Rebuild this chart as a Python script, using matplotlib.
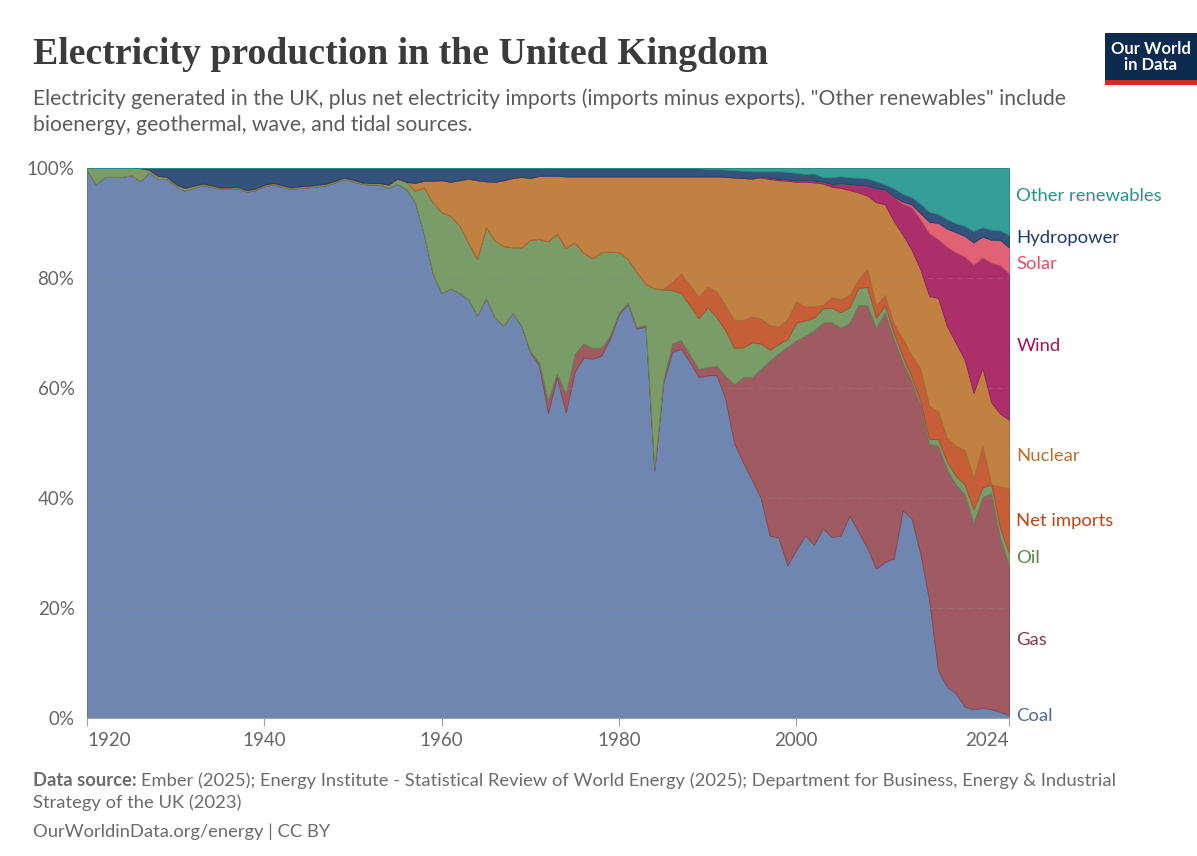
import matplotlib
matplotlib.use("Agg")
import matplotlib.pyplot as plt
import matplotlib.transforms as mtransforms
from matplotlib.patches import Rectangle
import numpy as np

# share of electricity by source, %, 1920..2024
years = np.arange(1920, 2025)

coal = [99.6, 97.0, 98.4, 98.4, 98.4, 98.7, 97.6, 99.2, 98.0, 98.0,
        96.7, 95.9, 96.4, 96.9, 96.6, 96.2, 96.2, 96.3, 95.7, 96.0,
        96.7, 97.0, 96.6, 96.2, 96.4, 96.5, 96.7, 96.9, 97.4, 98.0,
        97.6, 97.1, 97.0, 97.0, 96.4, 97.1, 96.2, 93.8, 88.0, 80.8,
        77.3, 78.1, 77.3, 76.2, 73.2, 76.4, 72.8, 71.4, 73.7, 71.3,
        66.5, 64.1, 55.5, 62.0, 55.6, 62.9, 65.6, 65.3, 65.9, 69.0,
        73.5, 75.3, 70.8, 71.2, 45.0, 61.1, 66.5, 67.2, 64.7, 62.0,
        62.3, 62.4, 58.1, 50.0, 46.5, 43.3, 40.0, 33.2, 32.8, 27.8,
        30.6, 33.2, 31.5, 34.5, 32.9, 33.2, 36.8, 33.9, 31.0, 27.2,
        28.4, 29.0, 37.8, 36.3, 29.9, 21.5, 8.7, 5.7, 4.5, 2.1,
        1.6, 1.9, 1.6, 1.2, 0.5]

gas = [0] * 50 + \
      [0.2, 0.5, 2.3, 0.7, 3.4, 3.3, 2.5, 2.0, 1.4, 0.6,
       0.3, 0.2, 0.3, 0.3, 0.5, 0.4, 1.6, 1.5, 1.4, 1.5,
       1.5, 1.7, 4.1, 10.7, 15.5, 18.7, 23.5, 31.8, 33.5, 39.7,
       38.1, 36.3, 39.0, 37.4, 39.1, 37.8, 35.0, 41.2, 44.1, 43.8,
       45.4, 40.0, 27.0, 25.0, 27.0, 28.4, 41.0, 39.5, 38.1, 39.1,
       34.4, 38.7, 39.5, 33.5, 27.3]

oil = [0.4, 3.0, 1.6, 1.6, 1.6, 1.3, 2.4, 0.5, 0.6, 0.4,
       0.4, 0.5, 0.4, 0.3, 0.3, 0.3, 0.3, 0.3, 0.3, 0.3,
       0.3, 0.3, 0.3, 0.3, 0.3, 0.3, 0.3, 0.3, 0.3, 0.3,
       0.3, 0.3, 0.3, 0.3, 0.6, 1.0, 1.3, 2.1, 8.5, 13.0,
       14.7, 13.2, 12.3, 10.3, 10.3, 12.9, 14.0, 14.4, 11.9, 14.3,
       20.3, 22.5, 28.9, 25.4, 26.5, 20.3, 16.5, 16.3, 17.4, 15.2,
       10.9, 8.0, 10.0, 7.5, 32.6, 16.5, 9.7, 8.6, 8.9, 9.2,
       10.9, 8.8, 8.3, 6.6, 5.4, 6.3, 4.6, 2.0, 1.7, 1.4,
       3.2, 2.8, 2.3, 2.6, 2.6, 2.8, 2.9, 3.1, 3.3, 1.8,
       1.2, 1.0, 1.0, 0.8, 0.8, 0.9, 1.2, 1.4, 1.6, 1.8,
       2.5, 1.8, 1.6, 1.8, 2.2]

net_imports = [0] * 60 + \
      [0, 0, 0, 0, 0, 0.1, 1.5, 3.5, 3.7, 3.8,
       3.7, 4.6, 4.5, 5.0, 5.0, 4.7, 4.5, 4.4, 3.2, 3.6,
       3.9, 2.5, 2.1, 0.6, 1.9, 2.3, 2.2, 1.5, 3.2, 2.2,
       1.9, 1.7, 3.2, 3.9, 5.8, 6.0, 5.0, 4.3, 5.5, 6.3,
       5.7, 7.7, 0.0, 8.0, 11.7]

nuclear = [0] * 30 + \
      [0, 0, 0, 0, 0, 0, 0, 1.4, 1.2, 3.9,
       5.8, 6.2, 8.2, 11.6, 14.3, 8.3, 10.7, 12.0, 12.6, 12.8,
       11.2, 11.5, 11.9, 10.5, 13.0, 12.0, 13.9, 14.9, 13.8, 13.7,
       13.8, 15.0, 17.4, 19.5, 20.4, 20.5, 19.2, 17.7, 19.8, 22.0,
       20.1, 21.0, 23.4, 26.0, 25.8, 25.1, 25.7, 26.6, 26.6, 25.2,
       21.7, 22.7, 22.5, 22.1, 20.1, 20.3, 19.1, 15.9, 13.4, 18.8,
       16.5, 18.7, 18.9, 19.2, 18.1, 20.0, 20.8, 20.3, 18.8, 16.7,
       15.7, 14.3, 15.0, 14.0, 12.5]

wind = [0] * 70 + \
      [0, 0, 0, 0, 0, 0, 0.1, 0.2, 0.2, 0.2,
       0.2, 0.3, 0.3, 0.3, 0.5, 0.8, 1.1, 1.3, 1.8, 2.5,
       2.7, 4.3, 5.6, 7.7, 9.1, 11.4, 10.7, 14.4, 16.5, 19.0,
       23.6, 20.3, 25.5, 28.5, 26.6]

solar = [0] * 90 + \
      [0, 0.1, 0.4, 0.5, 1.1, 2.1, 3.0, 3.3, 3.7, 3.8,
       4.1, 3.8, 4.2, 4.9, 4.8]

hydro = [0, 0, 0, 0, 0, 0, 0, 0.3, 1.4, 1.6,
         2.9, 3.6, 3.2, 2.8, 3.1, 3.5, 3.5, 3.4, 4.0, 3.7,
         3.0, 2.7, 3.1, 3.5, 3.3, 3.2, 3.0, 2.8, 2.3, 1.7,
         2.1, 2.6, 2.7, 2.7, 3.0, 1.9, 2.5, 2.7, 2.3, 2.3,
         2.2, 2.5, 2.2, 1.9, 2.2, 2.4, 2.5, 2.2, 1.8, 1.6,
         1.8, 1.4, 1.4, 1.4, 1.5, 1.5, 1.5, 1.5, 1.5, 1.5,
         1.5, 1.5, 1.5, 1.5, 1.5, 1.5, 1.5, 1.5, 1.5, 1.5,
         1.3, 1.3, 1.3, 1.3, 1.3, 1.3, 1.0, 1.2, 1.4, 1.4,
         1.4, 1.1, 1.3, 0.8, 1.2, 1.3, 1.2, 1.3, 1.3, 1.3,
         0.9, 1.5, 1.4, 1.3, 1.7, 1.8, 1.6, 1.7, 1.6, 1.8,
         2.1, 1.7, 1.8, 1.8, 2.2]

other_renewables = [0] * 70 + \
      [0.2, 0.2, 0.3, 0.4, 0.5, 0.6, 0.6, 0.6, 0.6, 0.7,
       0.9, 1.1, 1.0, 1.7, 1.7, 1.5, 1.7, 1.8, 1.9, 2.4,
       3.0, 3.7, 4.7, 5.3, 6.5, 8.0, 8.4, 9.3, 10.1, 10.7,
       11.6, 10.9, 11.3, 12.0, 12.2]

names = ["Coal", "Gas", "Oil", "Net imports", "Nuclear", "Wind", "Solar",
         "Hydropower", "Other renewables"]
fills = ["#6F87B0", "#A05A62", "#799C68", "#C65F38", "#C08142", "#AC2F6B",
         "#E06274", "#33537D", "#359E98"]
edges = ["#5C739B", "#8A4852", "#65875A", "#B04E2B", "#A86E35", "#93235A",
         "#C95062", "#26415F", "#2A8780"]
label_colors = ["#4C6A9C", "#883A4A", "#55883F", "#C04514", "#B8702D", "#A3135E",
                "#E04E65", "#1D3A63", "#22958C"]
# label y (in %) on the right side, as placed in the original
label_y = [0.4, 14.2, 29.1, 35.8, 47.6, 67.6, 82.5, 87.3, 94.9]

data = np.array([coal, gas, oil, net_imports, nuclear, wind, solar, hydro,
                 other_renewables], dtype=float)
shares = data / data.sum(axis=0) * 100
tops = np.cumsum(shares, axis=0)

W, H = 1197, 856
fig = plt.figure(figsize=(W / 100, H / 100), dpi=100)
fig.patch.set_facecolor("white")
ax = fig.add_axes([87 / W, 138 / H, 922 / W, 550 / H])

bottom = np.zeros(len(years))
for i in range(len(names)):
    ax.fill_between(years, bottom, tops[i], facecolor=fills[i],
                    edgecolor=edges[i], linewidth=0.7, zorder=2)
    bottom = tops[i]

for g in [20, 40, 60, 80]:
    ax.axhline(g, color="#8a8a8a", lw=0.8, ls=(0, (5, 4)), alpha=0.35, zorder=4)

ax.set_xlim(1920, 2024)
ax.set_ylim(0, 100)
for s in ["top", "right", "left"]:
    ax.spines[s].set_visible(False)
ax.spines["bottom"].set_color("#a0a0a0")
ax.spines["bottom"].set_zorder(5)

tick_font = dict(family="Lato", size=13.5, color="#666666")
ax.set_yticks([0, 20, 40, 60, 80, 100])
ax.set_yticklabels(["0%", "20%", "40%", "60%", "80%", "100%"], **tick_font)
ax.tick_params(axis="y", length=0, pad=9)
xt = [1920, 1940, 1960, 1980, 2000, 2024]
ax.set_xticks(xt)
ax.set_xticklabels([str(v) for v in xt], **tick_font)
ax.tick_params(axis="x", length=6, color="#a0a0a0", pad=4)
xl = ax.get_xticklabels()
xl[0].set_horizontalalignment("left")
xl[-1].set_horizontalalignment("right")

trans = mtransforms.blended_transform_factory(ax.transAxes, ax.transData)
for name, y, c in zip(names, label_y, label_colors):
    ax.text(1.008, y, name, transform=trans, va="center", ha="left",
            family="Lato", fontsize=13.3, color=c, clip_on=False)

# header
fig.text(33 / W, 1 - 55 / H, "Electricity production in the United Kingdom",
         family="Liberation Serif", fontsize=27.2, color="#3b3b3b",
         va="center", ha="left", weight="bold")
sub = ('Electricity generated in the UK, plus net electricity imports (imports minus exports). '
       '"Other renewables" include')
fig.text(33 / W, 1 - 99 / H, sub, family="Lato", fontsize=15.2, color="#5b5b5b",
         va="center", ha="left")
fig.text(33 / W, 1 - 125 / H, "bioenergy, geothermal, wave, and tidal sources.",
         family="Lato", fontsize=15.2, color="#5b5b5b", va="center", ha="left")

# logo
fig.patches.append(Rectangle((1105 / W, 1 - 80 / H), 92 / W, 47 / H,
                             transform=fig.transFigure, facecolor="#0d2a4f",
                             edgecolor="none"))
fig.patches.append(Rectangle((1105 / W, 1 - 85 / H), 92 / W, 5 / H,
                             transform=fig.transFigure, facecolor="#d42b21",
                             edgecolor="none"))
fig.text(1151 / W, 1 - 57 / H, "Our World\nin Data", family="Lato", weight="bold",
         fontsize=12, color="white", ha="center", va="center", linespacing=1.0)

# footer
foot = dict(family="Lato", fontsize=13.2, color="#6b6b6b", va="center", ha="left")
t1 = fig.text(33 / W, 1 - 781 / H, "Data source:", weight="bold", **foot)
fig.canvas.draw()
bb = t1.get_window_extent(renderer=fig.canvas.get_renderer())
fig.text(bb.x1 / W + 4 / W, 1 - 781 / H,
         "Ember (2025); Energy Institute - Statistical Review of World Energy (2025); "
         "Department for Business, Energy & Industrial", **foot)
fig.text(33 / W, 1 - 803 / H, "Strategy of the UK (2023)", **foot)
fig.text(33 / W, 1 - 832 / H, "OurWorldinData.org/energy | CC BY", **foot)

fig.savefig("out.png", dpi=100)
